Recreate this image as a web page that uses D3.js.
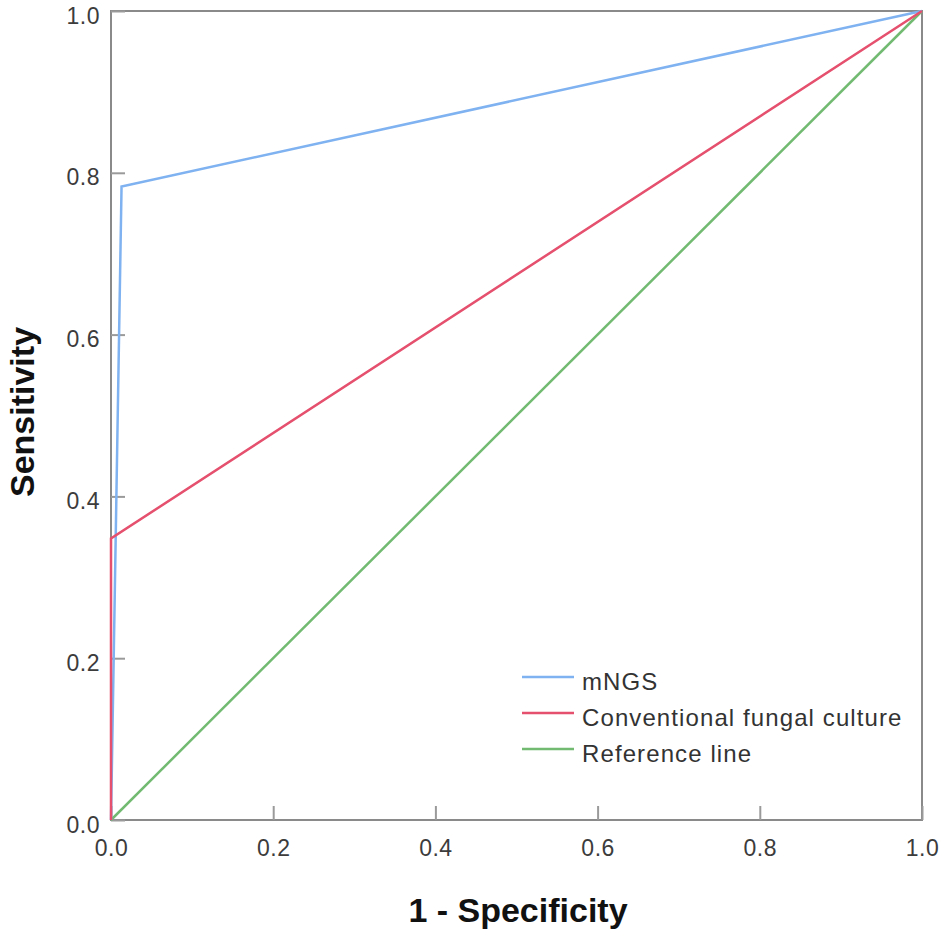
<!DOCTYPE html>
<html>
<head>
<meta charset="utf-8" />
<title>ROC curve</title>
<script src="https://d3js.org/d3.v7.min.js"></script>
<style>
	body { margin: 0; background: #fff; }
	text { font-family: "Liberation Sans", Arial, sans-serif; }
</style>
</head>
<body>
<script>
	// ROC points (1 - specificity, sensitivity)
	const seriesNames = ["mNGS", "Conventional fungal culture", "Reference line"];
	const mngsX = [0, 0.013, 1];
	const mngsY = [0, 0.783, 1];
	const cultureX = [0, 0, 1];
	const cultureY = [0, 0.348, 1];
	const refX = [0, 1];
	const refY = [0, 1];
	const tickValues = [0, 0.2, 0.4, 0.6, 0.8, 1.0];
	const colors = ["#7fb2f0", "#e5506e", "#72ba72"];

	const width = 945, height = 936;
	const margin = {left: 111, top: 11, right: 23, bottom: 116};

	const svg = d3.select("body").append("svg")
		.attr("width", width)
		.attr("height", height);

	const x = d3.scaleLinear().domain([0, 1]).range([margin.left, width - margin.right]);
	const y = d3.scaleLinear().domain([0, 1]).range([height - margin.bottom, margin.top]);

	// frame
	svg.append("rect")
		.attr("x", x(0)).attr("y", y(1))
		.attr("width", x(1) - x(0)).attr("height", y(0) - y(1))
		.attr("fill", "none")
		.attr("stroke", "#8a8a8a")
		.attr("stroke-width", 2);

	// axes with inward ticks
	const xAxis = svg.append("g")
		.attr("transform", `translate(0,${y(0)})`)
		.call(d3.axisTop(x).tickValues(tickValues).tickSize(14).tickFormat(d3.format(".1f")));
	xAxis.select(".domain").remove();
	xAxis.selectAll(".tick line").attr("stroke", "#9a9a9a").attr("stroke-width", 2);
	xAxis.selectAll(".tick text").remove();
	xAxis.selectAll(".tick").append("text")
		.attr("y", 36)
		.attr("text-anchor", "middle")
		.attr("fill", "#3c3c3c")
		.attr("font-size", 23)
		.attr("letter-spacing", 0.5)
		.text(d => d3.format(".1f")(d));

	const yAxis = svg.append("g")
		.attr("transform", `translate(${x(0)},0)`)
		.call(d3.axisRight(y).tickValues(tickValues).tickSize(14));
	yAxis.select(".domain").remove();
	yAxis.selectAll(".tick line").attr("stroke", "#9a9a9a").attr("stroke-width", 2);
	yAxis.selectAll(".tick text").remove();
	yAxis.selectAll(".tick").append("text")
		.attr("x", -11)
		.attr("y", 12)
		.attr("text-anchor", "end")
		.attr("fill", "#3c3c3c")
		.attr("font-size", 23)
		.attr("letter-spacing", 0.5)
		.text(d => d3.format(".1f")(d));

	// axis titles
	svg.append("text")
		.attr("x", 518).attr("y", 922)
		.attr("text-anchor", "middle")
		.attr("font-size", 34)
		.attr("font-weight", "bold")
		.attr("fill", "#111")
		.text("1 - Specificity");
	svg.append("text")
		.attr("transform", "translate(34,412) rotate(-90)")
		.attr("text-anchor", "middle")
		.attr("font-size", 34)
		.attr("font-weight", "bold")
		.attr("fill", "#111")
		.text("Sensitivity");

	// curves
	const series = [
		{name: seriesNames[0], xs: mngsX, ys: mngsY},
		{name: seriesNames[1], xs: cultureX, ys: cultureY},
		{name: seriesNames[2], xs: refX, ys: refY}
	];
	const line = d3.line().x(d => x(d[0])).y(d => y(d[1]));
	// draw reference first so the ROC curves sit on top
	[2, 0, 1].forEach(i => {
		const s = series[i];
		svg.append("path")
			.datum(d3.zip(s.xs, s.ys))
			.attr("d", line)
			.attr("fill", "none")
			.attr("stroke", colors[i])
			.attr("stroke-width", 2.5);
	});

	// legend
	const legend = svg.append("g").attr("transform", "translate(522,677)");
	series.forEach((s, i) => {
		const g = legend.append("g").attr("transform", `translate(0,${i * 36})`);
		g.append("line")
			.attr("x1", 0).attr("x2", 52)
			.attr("stroke", colors[i])
			.attr("stroke-width", 2.5);
		g.append("text")
			.attr("x", 60).attr("y", 13)
			.attr("font-size", 24)
			.attr("letter-spacing", 1.1)
			.attr("fill", "#333")
			.text(s.name);
	});
</script>
</body>
</html>
